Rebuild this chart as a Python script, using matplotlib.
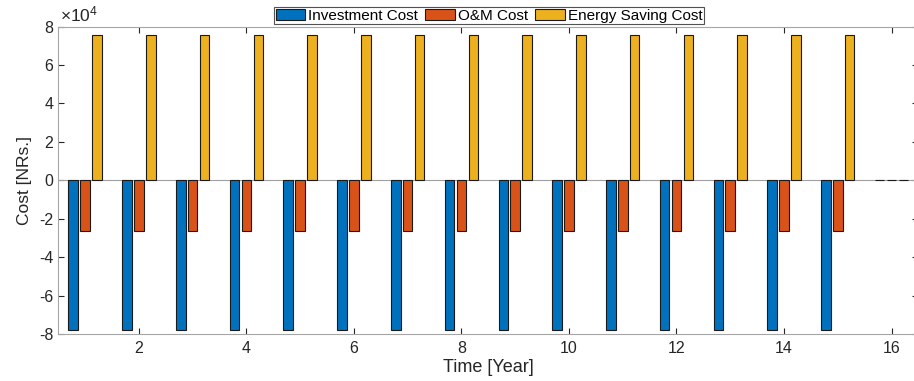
import numpy as np
import matplotlib
matplotlib.use('Agg')
import matplotlib.pyplot as plt

plt.rcParams['font.family'] = ['Liberation Sans', 'DejaVu Sans']
plt.rcParams['axes.unicode_minus'] = False
plt.rcParams['mathtext.fontset'] = 'custom'
plt.rcParams['mathtext.rm'] = 'Liberation Sans'
plt.rcParams['mathtext.it'] = 'Liberation Sans'

# data (Cost in NRs.)
years = np.arange(1, 17)
investment = [-78000] * 15 + [0]
om_cost = [-26600] * 15 + [0]
energy_saving = [75500] * 15 + [0]
series = [investment, om_cost, energy_saving]
names = ['Investment Cost', 'O&M Cost', 'Energy Saving Cost']
colors = ['#0072BD', '#D95319', '#EDB120']

fig = plt.figure(figsize=(9.14, 3.81), dpi=100)
ax = fig.add_axes([0.0638, 0.1234, 0.941, 0.8066])

# matlab style grouped bars
step = 0.2222
width = 0.8 * step
for i, vals in enumerate(series):
    ax.bar(years + (i - 1) * step, np.array(vals) / 1e4, width=width,
           color=colors[i], edgecolor='#1a1a1a', linewidth=0.8,
           label=names[i], zorder=3)

ax.axhline(0, color='#a0a0a0', linewidth=0.8, zorder=2)

ax.set_xlim(0.5, 16.5)
ax.set_ylim(-8, 8)
ax.set_xticks(np.arange(2, 17, 2))
ax.set_yticks(np.arange(-8, 9, 2))
ax.tick_params(direction='in', top=True, right=True, length=4.5, width=0.8,
               color='#262626', labelsize=11.5, labelcolor='#262626')
ax.tick_params(axis='x', pad=5)
for s in ax.spines.values():
    s.set_color('#a6a6a6')
    s.set_linewidth(0.8)

ax.set_xlabel('Time [Year]', fontsize=13, color='#262626', labelpad=2)
ax.set_ylabel('Cost [NRs.]', fontsize=12.5, color='#262626', labelpad=5)
ax.text(0.002, 1.008, r'$\times10^{4}$', transform=ax.transAxes, fontsize=12.5,
        color='#262626', ha='left', va='bottom')

leg = ax.legend(loc='center', bbox_to_anchor=(489 / 914, 1 - 15.8 / 381),
                bbox_transform=fig.transFigure, ncol=3, fontsize=11,
                frameon=True, fancybox=False, edgecolor='#262626',
                handlelength=1.95, handleheight=0.75, handletextpad=0.2,
                columnspacing=0.45, borderpad=0.1, borderaxespad=0)
leg.get_frame().set_linewidth(0.8)

fig.savefig('out.png', dpi=100)
